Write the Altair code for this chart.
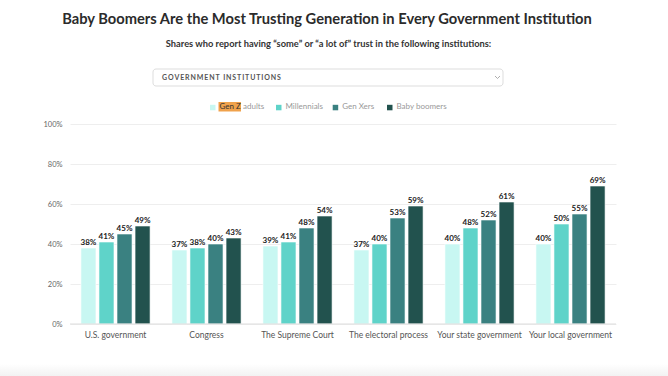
import altair as alt
import pandas as pd

institutions = ["U.S. government", "Congress", "The Supreme Court",
                "The electoral process", "Your state government", "Your local government"]
generations = ["Gen Z adults", "Millennials", "Gen Xers", "Baby boomers"]
gen_z = [38, 37, 39, 37, 40, 40]
millennials = [41, 38, 41, 40, 48, 50]
gen_x = [45, 40, 48, 53, 52, 55]
boomers = [49, 43, 54, 59, 61, 69]
colors = ["#c8f7f2", "#5fd3c9", "#3a8181", "#22524e"]

rows = []
for series, gen in zip([gen_z, millennials, gen_x, boomers], generations):
    for inst, v in zip(institutions, series):
        rows.append({"institution": inst, "generation": gen, "value": v / 100})
df = pd.DataFrame(rows)

FONT = "Lato"
W, H = 546, 200
L, T = 70, 124  # plot origin in page pixels

x = alt.X("institution:N", sort=institutions, title=None,
          scale=alt.Scale(paddingInner=0.24, paddingOuter=0.12),
          axis=alt.Axis(labelAngle=0, labelFont=FONT, labelFontSize=8.5, labelColor="#555",
                        ticks=False, domain=False, labelPadding=6))
xo = alt.XOffset("generation:N", sort=generations,
                 scale=alt.Scale(paddingInner=0.167, paddingOuter=0))
y = alt.Y("value:Q", title=None,
          scale=alt.Scale(domain=[0, 1]),
          axis=alt.Axis(values=[0, 0.2, 0.4, 0.6, 0.8, 1.0], format=".0%",
                        labelFont=FONT, labelFontSize=7.5, labelColor="#666",
                        ticks=False, domain=False, gridColor="#eeeeee", labelPadding=8))
color = alt.Color("generation:N", sort=generations,
                  scale=alt.Scale(domain=generations, range=colors), legend=None)

one = pd.DataFrame({"a": [0]})

bars = alt.Chart(df).mark_bar(stroke="white", strokeWidth=0.6).encode(
    x=x, xOffset=xo, y=y, color=color)

labels = alt.Chart(df).mark_text(dy=-5, font=FONT, fontSize=8, fontWeight="bold",
                                 color="#222").encode(
    x=x, xOffset=xo, y=y, text=alt.Text("value:Q", format=".0%"))

# legend (key) drawn as a row of swatches and labels
legend_layers = []
highlight = alt.Chart(one).mark_rect(color="#f0a24c").encode(
    x=alt.value(218.5 - L), x2=alt.value(241 - L),
    y=alt.value(102 - T), y2=alt.value(111.5 - T))
legend_layers.append(highlight)
sw_left = [210, 276, 332.7, 387]
for gen, col, sx in zip(generations, colors, sw_left):
    legend_layers.append(alt.Chart(one).mark_rect(color=col).encode(
        x=alt.value(sx - L), x2=alt.value(sx + 5.5 - L),
        y=alt.value(104.8 - T), y2=alt.value(110.3 - T)))
    if gen == "Gen Z adults":
        legend_layers.append(alt.Chart(one).mark_text(
            text="Gen Z", font=FONT, fontSize=8, color="#333", align="left", baseline="middle"
        ).encode(x=alt.value(sx + 9.5 - L), y=alt.value(107.3 - T)))
        legend_layers.append(alt.Chart(one).mark_text(
            text="adults", font=FONT, fontSize=8, color="#999", align="left", baseline="middle"
        ).encode(x=alt.value(243 - L), y=alt.value(107.3 - T)))
    else:
        legend_layers.append(alt.Chart(one).mark_text(
            text=gen, font=FONT, fontSize=8, color="#999", align="left", baseline="middle"
        ).encode(x=alt.value(sx + 9.5 - L), y=alt.value(107.3 - T)))

title = alt.Chart(one).mark_text(text="Baby Boomers Are the Most Trusting Generation in Every Government Institution",
                                 font=FONT, fontSize=14.7, fontWeight="bold", color="#2b2b2b",
                                 align="center", baseline="middle").encode(
    x=alt.value(327 - L), y=alt.value(20 - T))
subtitle = alt.Chart(one).mark_text(text="Shares who report having \u201csome\u201d or \u201ca lot of\u201d trust in the following institutions:",
                                    font=FONT, fontSize=9.3, fontWeight="bold", color="#333",
                                    align="center", baseline="middle").encode(
    x=alt.value(328.5 - L), y=alt.value(44 - T))
box = alt.Chart(one).mark_rect(fill="white", stroke="#dddddd", strokeWidth=1, cornerRadius=3).encode(
    x=alt.value(153 - L), x2=alt.value(503 - L),
    y=alt.value(69 - T), y2=alt.value(86 - T))
spaced = "\u2009".join("GOVERNMENT INSTITUTIONS").replace("\u2009 \u2009", "\u2002")
box_text = alt.Chart(one).mark_text(text=spaced, font=FONT, fontSize=7,
                                    fontWeight="bold", color="#555", align="left",
                                    baseline="middle").encode(
    x=alt.value(162 - L), y=alt.value(77.5 - T))
chev1 = alt.Chart(one).mark_rule(color="#999", strokeWidth=0.8).encode(
    x=alt.value(495 - L), x2=alt.value(497.5 - L), y=alt.value(76 - T), y2=alt.value(78.5 - T))
chev2 = alt.Chart(one).mark_rule(color="#999", strokeWidth=0.8).encode(
    x=alt.value(497.5 - L), x2=alt.value(500 - L), y=alt.value(78.5 - T), y2=alt.value(76 - T))
baseline = alt.Chart(one).mark_rule(color="#dddddd", strokeWidth=1).encode(
    x=alt.value(0), x2=alt.value(W), y=alt.value(H))
shade = alt.Chart(one).mark_rect(
    fill=alt.Gradient(gradient="linear", x1=0, y1=0, x2=0, y2=1,
                      stops=[alt.GradientStop(color="#ffffff", offset=0),
                             alt.GradientStop(color="#f2f2f2", offset=1)])).encode(
    x=alt.value(-L), x2=alt.value(W + 52),
    y=alt.value(364 - T), y2=alt.value(376 - T))

chart = alt.layer(shade, bars, labels, baseline, title, subtitle, box, box_text, chev1, chev2,
                  *legend_layers).properties(
    width=W, height=H,
    autosize=alt.AutoSizeParams(type="none"),
    padding={"left": L, "top": T, "right": 52, "bottom": 52},
    background="white",
).configure_view(stroke=None)

chart.save("out.html", embed_options={"renderer": "svg", "actions": False})
